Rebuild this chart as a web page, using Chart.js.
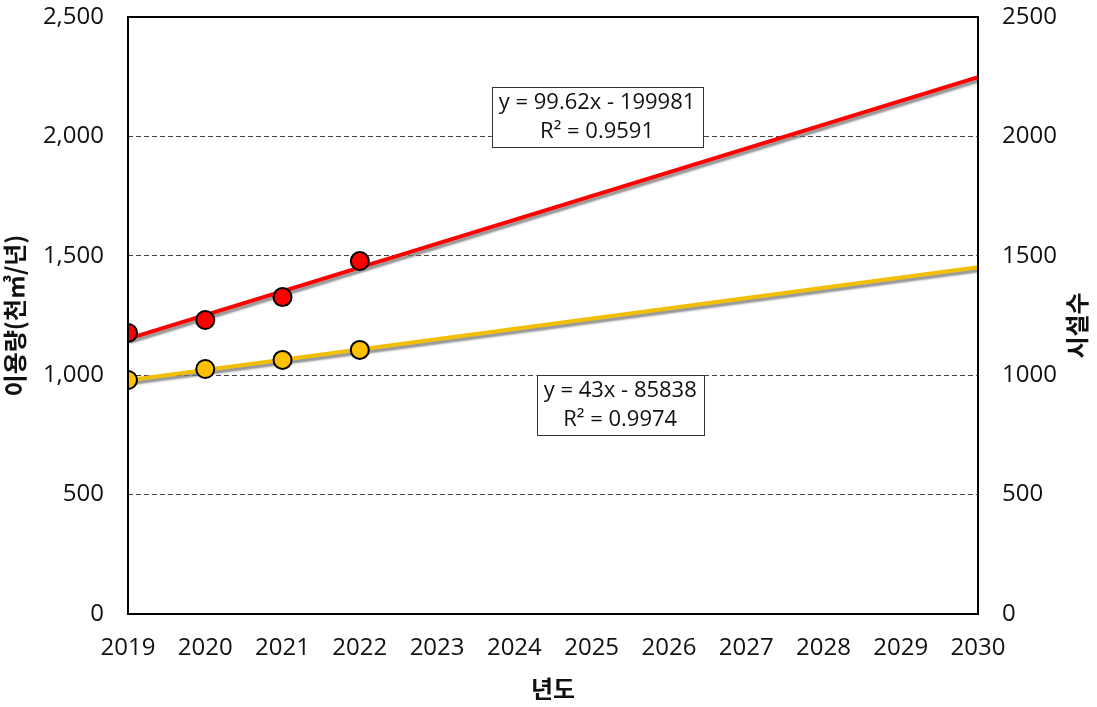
<!DOCTYPE html>
<html><head><meta charset="utf-8">
<script src="https://cdn.jsdelivr.net/npm/chart.js@4"></script>
<style>html,body{margin:0;padding:0;background:#fff}#wrap{width:1097px;height:707px}</style>
</head><body><div id="wrap"><canvas id="c"></canvas></div>
<script>
const years = [2019, 2020, 2021, 2022];
const usage = [1177, 1231, 1327, 1478];       // 이용량 (천㎥/년)
const facilities = [980, 1026, 1064, 1106];   // 시설수
const trendYears = [2019, 2030];
const usageTrend = [1152, 2248];
const facilityTrend = [979, 1452];
const usageEq = ['y = 99.62x - 199981', 'R² = 0.9591'];
const facilityEq = ['y = 43x - 85838', 'R² = 0.9974'];
const usageEqPos = [2025.07, 2081];
const facilityEqPos = [2025.37, 875];
const xTicks = [2019,2020,2021,2022,2023,2024,2025,2026,2027,2028,2029,2030];

const FONT = "'Open Sans','Noto Sans','Noto Sans CJK KR',sans-serif";
const KFONT = "'Noto Sans CJK KR','Noto Sans',sans-serif";

const shadowPlugin = {
  id: 'shadow',
  beforeDatasetDraw(chart, args) {
    const ds = chart.data.datasets[args.index];
    if (ds._trend) {
      const ctx = chart.ctx;
      ctx.save();
      ctx.shadowColor = 'rgba(120,120,120,0.8)';
      ctx.shadowOffsetX = 2;
      ctx.shadowOffsetY = 3;
      ctx.shadowBlur = 2;
    }
  },
  afterDatasetDraw(chart, args) {
    const ds = chart.data.datasets[args.index];
    if (ds._trend) chart.ctx.restore();
  }
};

const labelPlugin = {
  id: 'labels',
  afterDraw(chart) {
    const ctx = chart.ctx;
    const x = chart.scales.x, y = chart.scales.y;
    function box(lines, pos) {
      ctx.save();
      ctx.font = "22px " + FONT;
      const w = Math.max(...lines.map(l => ctx.measureText(l).width)) + 14;
      const h = 60;
      const cx = x.getPixelForValue(pos[0]), cy = y.getPixelForValue(pos[1]);
      ctx.fillStyle = '#fff';
      ctx.fillRect(cx - w/2, cy - h/2, w, h);
      ctx.strokeStyle = '#333';
      ctx.lineWidth = 1;
      ctx.strokeRect(Math.round(cx - w/2)+0.5, Math.round(cy - h/2)+0.5, Math.round(w), h);
      ctx.fillStyle = '#111';
      ctx.textAlign = 'center';
      ctx.textBaseline = 'middle';
      ctx.fillText(lines[0], cx, cy - 14);
      ctx.fillText(lines[1], cx, cy + 15);
      ctx.restore();
    }
    box(usageEq, usageEqPos);
    box(facilityEq, facilityEqPos);
    const ca = chart.chartArea;
    ctx.save();
    ctx.font = "bold 24px " + KFONT;
    ctx.fillStyle = '#111';
    ctx.translate(1077, (ca.top + ca.bottom) / 2 + 10);
    ctx.rotate(-Math.PI / 2);
    ctx.textAlign = 'center';
    ctx.textBaseline = 'middle';
    ctx.fillText('시설수', 0, 0);
    ctx.restore();
    ctx.save();
    ctx.strokeStyle = '#000';
    ctx.lineWidth = 2;
    ctx.strokeRect(ca.left, ca.top, ca.right - ca.left, ca.bottom - ca.top);
    ctx.restore();
  }
};

new Chart(document.getElementById('c'), {
  type: 'scatter',
  data: {
    datasets: [
      { _trend: true, data: trendYears.map((t,i)=>({x:t,y:usageTrend[i]})), showLine: true,
        borderColor: '#FF0000', borderWidth: 4, pointRadius: 0, yAxisID: 'y', order: 3 },
      { _trend: true, data: trendYears.map((t,i)=>({x:t,y:facilityTrend[i]})), showLine: true,
        borderColor: '#F2BE00', borderWidth: 4, pointRadius: 0, yAxisID: 'y2', order: 4 },
      { data: years.map((t,i)=>({x:t,y:usage[i]})), pointRadius: 9, pointBackgroundColor: '#FF0000',
        pointBorderColor: '#000', pointBorderWidth: 2, yAxisID: 'y', order: 1 },
      { data: years.map((t,i)=>({x:t,y:facilities[i]})), pointRadius: 9, pointBackgroundColor: '#FFC000',
        pointBorderColor: '#000', pointBorderWidth: 2, yAxisID: 'y2', order: 2 }
    ]
  },
  options: {
    responsive: true, maintainAspectRatio: false, animation: false,
    layout: { padding: { top: 17, left: 0, right: 0, bottom: 0 } },
    plugins: { legend: { display: false }, tooltip: { enabled: false } },
    scales: {
      x: {
        type: 'linear', min: 2019, max: 2030,
        afterBuildTicks(s) { s.ticks = xTicks.map(v => ({ value: v })); },
        afterFit(s) { s.height = 93; s.paddingLeft = 0; s.paddingRight = 0; },
        grid: { display: false, drawTicks: false },
        border: { display: false },
        ticks: { padding: 20, color: '#111', font: { size: 24, family: FONT }, callback: v => String(v), maxRotation: 0, autoSkip: false },
        title: { display: true, text: '년도', color: '#111', font: { size: 24, weight: 'bold', family: KFONT }, padding: { top: 2 } }
      },
      y: {
        position: 'left', min: 0, max: 2500,
        afterFit(s) { s.width = 128; s.paddingTop = 0; s.paddingBottom = 0; },
        grid: { color: '#444', lineWidth: 1, drawTicks: false },
        border: { display: false, dash: [5, 3] },
        ticks: { stepSize: 500, padding: 24, color: '#111', font: { size: 24, family: FONT },
          callback: v => v.toLocaleString('en-US') },
        title: { display: true, text: '이용량(천㎥/년)', color: '#111', font: { size: 24, weight: 'bold', family: KFONT }, padding: { top: 0, bottom: 0 } }
      },
      y2: {
        position: 'right', min: 0, max: 2500,
        afterFit(s) { s.width = 119; s.paddingTop = 0; s.paddingBottom = 0; },
        grid: { display: false, drawTicks: false },
        border: { display: false },
        ticks: { stepSize: 500, padding: 24, color: '#111', font: { size: 24, family: FONT }, callback: v => String(v) },
        title: { display: false }
      }
    }
  },
  plugins: [shadowPlugin, labelPlugin]
});
</script></body></html>
